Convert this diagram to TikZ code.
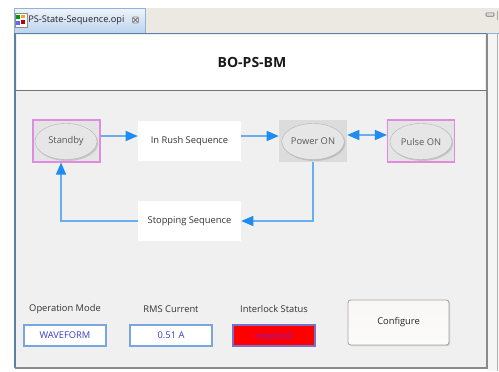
\documentclass[tikz,border=0pt]{standalone}
\usepackage{fontspec}
\setmainfont{Open Sans}
\usetikzlibrary{arrows.meta,shadows,calc,shapes.geometric}

\definecolor{panelbg}{HTML}{F0F0F0}
\definecolor{tabbar}{HTML}{ECE9E3}
\definecolor{tabtop}{HTML}{EEF4FC}
\definecolor{tabbot}{HTML}{BCD3EE}
\definecolor{tabedge}{HTML}{8FB2DA}
\definecolor{frameblue}{HTML}{5B7FA6}
\definecolor{framegray}{HTML}{8A8A8A}
\definecolor{flowline}{HTML}{6AAEF0}
\definecolor{flowhead}{HTML}{1E8CF0}
\definecolor{pinkedge}{HTML}{E08AE0}
\definecolor{statebg}{HTML}{E4E4E4}
\definecolor{powerbg}{HTML}{DCDCDC}
\definecolor{ellfill}{HTML}{E6E6E6}
\definecolor{ellrim}{HTML}{B4B4B4}
\definecolor{valedge}{HTML}{7AA6E0}
\definecolor{valtext}{HTML}{3A3ACC}
\definecolor{lockred}{HTML}{FF0000}
\definecolor{locktext}{HTML}{8A1AC0}
\definecolor{lockedge}{HTML}{7A70C8}
\definecolor{btnfill}{HTML}{F5F2EE}
\definecolor{btnedge}{HTML}{A8A6A2}

\begin{document}
\begin{tikzpicture}[x=0.75pt,y=-0.75pt,
  statebox/.style={draw=pinkedge, line width=0.8pt, fill=statebg,
    minimum width=50.25pt, minimum height=31.5pt, inner sep=0pt},
  powerbox/.style={fill=powerbg, minimum width=51pt, minimum height=31.5pt, inner sep=0pt},
  oval/.style={ellipse, fill=ellfill, draw=ellrim, line width=0.3pt,
    minimum width=46.5pt, minimum height=27pt, inner sep=0pt,
    font=\fontsize{7}{8}\selectfont, text=black!65,
    drop shadow={shadow xshift=0.9pt, shadow yshift=-1.1pt, opacity=0.35, fill=black!45}},
  seqbox/.style={fill=white, minimum width=77.25pt, minimum height=30pt, inner sep=0pt,
    font=\fontsize{7}{8}\selectfont, text=black!80},
  flow/.style={draw=flowline, line width=1pt,
    -{Triangle[length=9pt,width=7.5pt,color=flowhead]}},
  flowboth/.style={draw=flowline, line width=1pt,
    {Triangle[length=9pt,width=7.5pt,color=flowhead]}-{Triangle[length=9pt,width=7.5pt,color=flowhead]}},
  caption/.style={font=\fontsize{7}{8}\selectfont, text=black!80},
  valbox/.style={draw=valedge, line width=0.8pt, fill=white,
    minimum width=61.5pt, minimum height=15.75pt, inner sep=0pt,
    font=\fontsize{7}{8}\selectfont, text=valtext},
  ]
\useasboundingbox (0,0) rectangle (499,371);
\fill[white] (0,0) rectangle (499,371);

% editor tab bar
\fill[tabbar] (145,8) rectangle (499,33);
\shade[top color=tabtop, bottom color=tabbot] (14,8) rectangle (145,33);
\draw[tabedge, line width=0.5pt] (14,33) -- (14,8) -- (145,8) -- (145,33);
% file icon
\fill[white] (15,13) rectangle (27,27);
\draw[black!45, line width=0.4pt] (15,13) rectangle (27,27);
\fill[green!60!black] (16,15) rectangle (20,19);
\fill[red!75!black] (21,20) rectangle (25,24);
\fill[blue!60] (16,21) rectangle (20,25);
\fill[orange!80] (21,15) rectangle (25,18);
\node[font=\fontsize{6.9}{8}\selectfont, text=black!85, anchor=west, inner sep=0pt] (tablabel) at (28,20.5) {PS-State-Sequence.opi};
% close mark
\node[draw=black!45, line width=0.4pt, fill=black!8, minimum size=4.5pt, inner sep=0pt, rounded corners=0.5pt] (closemark) at (135.5,20) {};
\draw[black!55, line width=0.6pt] ($(closemark.north west)+(1,1)$) -- ($(closemark.south east)+(-1,-1)$);
\draw[black!55, line width=0.6pt] ($(closemark.north east)+(-1,1)$) -- ($(closemark.south west)+(1,-1)$);
% minimise mark
\node[draw=black!55, fill=black!15, line width=0.4pt, minimum width=6pt, minimum height=2.6pt, inner sep=0pt, rounded corners=0.5pt] (minmark) at (490,14.5) {};
\draw[black!35, line width=0.5pt] (497,11) -- (497,20);

% editor area
\fill[panelbg] (15,33) rectangle (487,368);
\fill[panelbg!70!white] (487,33) rectangle (499,371);
\draw[black!30, line width=0.5pt] (497,33) -- (497,371);
\draw[tabedge, line width=0.8pt] (15,33.5) -- (499,33.5);
\draw[frameblue, line width=1pt] (15,368) -- (15,33.5) -- (487,33.5);
\draw[framegray, line width=1pt] (487,33.5) -- (487,368) -- (15,368);

% title banner
\fill[white] (17,35) rectangle (485,90);
\draw[black!55, line width=0.6pt] (16,90) -- (486,90);
\node[font=\bfseries\fontsize{10.5}{12}\selectfont, text=black!90] (title) at (252,62) {BO-PS-BM};

% states
\node[statebox] (standby) at (66.5,141) {};
\node[oval] (standbyoval) at (66,141.5) {Standby};
\node[seqbox] (inrush) at (189.5,141) {In Rush Sequence};
\node[powerbox] (poweron) at (313,141) {};
\node[oval] (poweroval) at (313,141.5) {Power ON};
\node[statebox] (pulseon) at (421,141) {};
\node[oval] (pulseoval) at (421,141.5) {Pulse ON};
\node[seqbox] (stopping) at (189.5,221) {Stopping Sequence};

% transitions
\draw[flow] ([yshift=3.75pt]standby.east) -- ([yshift=3.75pt]inrush.west);
\draw[flow] ([yshift=3.75pt]inrush.east) -- ([yshift=3.75pt]poweron.west);
\draw[flowboth] ([yshift=4.5pt]poweron.east) -- ([yshift=4.5pt]pulseon.west);
\draw[flow] (poweron.south) |- (stopping.east);
\draw[flow] (stopping.west) -| ([xshift=-4.1pt]standby.south);

% readbacks
\node[caption] (opmodelabel) at (65,309) {Operation Mode};
\node[caption] (rmslabel) at (171,309) {RMS Current};
\node[caption] (locklabel) at (274,309) {Interlock Status};
\node[valbox] (opmode) at (65,335.5) {WAVEFORM};
\node[valbox] (rms) at (171,335.5) {0.51 A};
\node[valbox, draw=lockedge, fill=lockred, text=locktext] (lock) at (274,335.5) {Interlock};

% configure button
\node[draw=btnedge, line width=0.7pt, top color=btnfill!60!white, bottom color=btnfill!85!black!8,
  rounded corners=2pt, minimum width=75.75pt, minimum height=33.75pt, inner sep=0pt,
  font=\fontsize{7}{8}\selectfont, text=black!85,
  drop shadow={shadow xshift=0.8pt, shadow yshift=-0.8pt, opacity=0.3, fill=black!50}] (configure) at (398.5,322.5) {Configure};
\end{tikzpicture}
\end{document}
